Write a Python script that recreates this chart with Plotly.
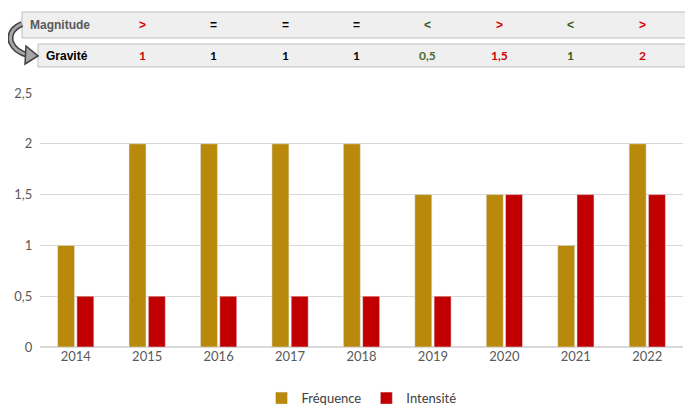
import plotly.graph_objects as go

# data
years = ["2014", "2015", "2016", "2017", "2018", "2019", "2020", "2021", "2022"]
frequence = [1, 2, 2, 2, 2, 1.5, 1.5, 1, 2]
intensite = [0.5, 0.5, 0.5, 0.5, 0.5, 0.5, 1.5, 1.5, 1.5]

# table above the chart (2015 -> 2022)
table_years = ["2015", "2016", "2017", "2018", "2019", "2020", "2021", "2022"]
magnitude = [">", "=", "=", "=", "<", ">", "<", ">"]
gravite = ["1", "1", "1", "1", "0,5", "1,5", "1", "2"]
mag_colors = {">": "#E00000", "=": "#000000", "<": "#3A5A1E"}
grav_colors = ["#D00000", "#000000", "#000000", "#000000", "#4E6B2A", "#D00000", "#3A5A1E", "#D00000"]

# page body has an 8px margin, so the figure sits 8px in from the corner
OFF = 8
W, H = 693 - OFF, 409 - OFF
L, R, T, B = 32, 10, 85, 62


def px(x):
    # page pixel -> paper x
    return round((x - OFF - L) / (W - L - R), 4)


def py(y):
    # page pixel -> paper y
    return round(1 - (y - OFF - T) / (H - T - B), 4)


fig = go.Figure()
fig.add_trace(go.Bar(x=years, y=frequence, name="Fréquence", marker_color="#B8890B"))
fig.add_trace(go.Bar(x=years, y=intensite, name="Intensité", marker_color="#C00000"))

shapes = [
    # table rows
    dict(type="rect", xref="paper", yref="paper", x0=px(22), x1=px(686), y0=py(38), y1=py(12),
         fillcolor="#EFEFEF", line=dict(color="#BFBFBF", width=1), layer="below"),
    dict(type="rect", xref="paper", yref="paper", x0=px(38), x1=px(686), y0=py(67), y1=py(44),
         fillcolor="#EFEFEF", line=dict(color="#BFBFBF", width=1), layer="below"),
]

# curved arrow between the two rows
curve = "M {},{} Q {},{} {},{} Q {},{} {},{}".format(
    px(22), py(24), px(8), py(30), px(11), py(42), px(15), py(52), px(28), py(55))
shapes.append(dict(type="path", xref="paper", yref="paper", path=curve,
                   line=dict(color="#404040", width=6)))
shapes.append(dict(type="path", xref="paper", yref="paper", path=curve,
                   line=dict(color="#A6A6A6", width=3)))
head = "M {},{} L {},{} L {},{} Z".format(px(26), py(46), px(38), py(56), px(25), py(64))
shapes.append(dict(type="path", xref="paper", yref="paper", path=head,
                   fillcolor="#A6A6A6", line=dict(color="#404040", width=1.5)))

annotations = [
    dict(x=px(28), y=py(25), xref="paper", yref="paper", text="<b>Magnitude</b>", showarrow=False,
         xanchor="left", yanchor="middle", font=dict(family="Arial", size=12, color="#595959")),
    dict(x=px(44), y=py(56), xref="paper", yref="paper", text="<b>Gravité</b>", showarrow=False,
         xanchor="left", yanchor="middle", font=dict(family="Arial", size=12, color="#000000")),
]
for yr, m, g, gc in zip(table_years, magnitude, gravite, grav_colors):
    i = years.index(yr)
    annotations.append(dict(x=i, y=py(25), xref="x", yref="paper", text="<b>" + m + "</b>",
                            showarrow=False, xshift=-5, yanchor="middle",
                            font=dict(family="Arial", size=12, color=mag_colors[m])))
    annotations.append(dict(x=i, y=py(56), xref="x", yref="paper", text="<b>" + g + "</b>",
                            showarrow=False, xshift=-5, yanchor="middle",
                            font=dict(family="Lato", size=12, color=gc)))

fig.update_layout(
    width=W, height=H,
    margin=dict(l=L, r=R, t=T, b=B, autoexpand=False),
    paper_bgcolor="white", plot_bgcolor="white",
    separators=", ",
    barmode="group", bargap=0.46, bargroupgap=0.12,
    font=dict(family="Lato", size=13, color="#595959"),
    xaxis=dict(type="category", range=[-0.5, 8.5], showgrid=False, showline=False, ticks="",
               tickfont=dict(size=13), automargin=False),
    yaxis=dict(range=[0, 2.5], dtick=0.5, gridcolor="#D9D9D9", zeroline=True,
               zerolinecolor="#D9D9D9", showline=False, ticks="", tickfont=dict(size=13),
               ticksuffix="  ", automargin=False),
    legend=dict(orientation="h", x=0.5, xanchor="center", yref="container", y=0.027,
                yanchor="middle", font=dict(size=13, color="#404040"), traceorder="normal",
                itemwidth=30),
    shapes=shapes,
    annotations=annotations,
)

fig.write_html("out.html")
